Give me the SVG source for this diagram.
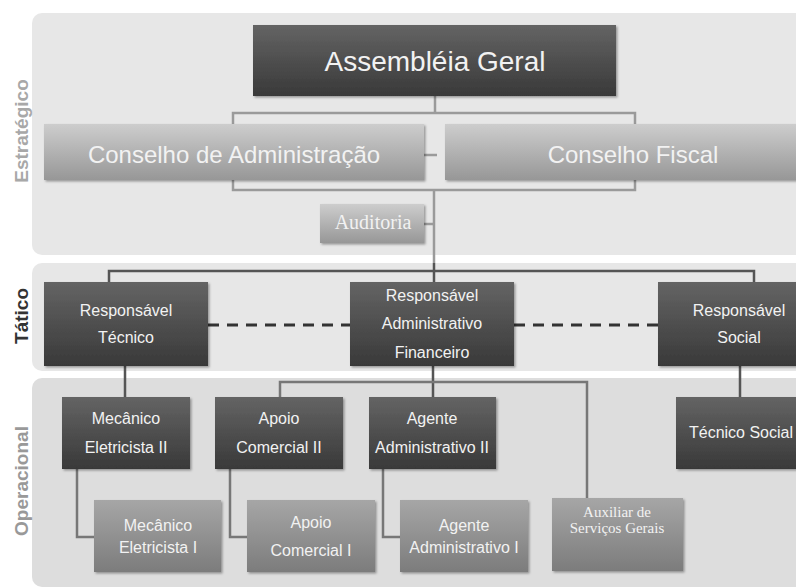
<svg xmlns="http://www.w3.org/2000/svg" width="796" height="588" viewBox="0 0 796 588">
<defs>
<linearGradient id="gDark" x1="0" y1="0" x2="0" y2="1">
<stop offset="0" stop-color="#646464"/><stop offset="1" stop-color="#393939"/>
</linearGradient>
<linearGradient id="gLight" x1="0" y1="0" x2="0" y2="1">
<stop offset="0" stop-color="#cdcdcd"/><stop offset="1" stop-color="#979797"/>
</linearGradient>
<linearGradient id="gMid" x1="0" y1="0" x2="0" y2="1">
<stop offset="0" stop-color="#a6a6a6"/><stop offset="1" stop-color="#7c7c7c"/>
</linearGradient>
<filter id="sh" x="-10%" y="-10%" width="125%" height="130%">
<feDropShadow dx="1.5" dy="1.5" stdDeviation="1.2" flood-color="#000" flood-opacity="0.35"/>
</filter>
</defs>
<style>
.band{fill:#e7e7e7}
.band3{fill:#dddddd}
.dark{fill:url(#gDark);filter:url(#sh)}
.light{fill:url(#gLight);filter:url(#sh)}
.mid{fill:url(#gMid);filter:url(#sh)}
.t{font-family:"Liberation Sans",Arial,sans-serif;fill:#f2f2f2;text-anchor:middle}
.s{font-family:"Liberation Serif","Times New Roman",serif;fill:#f2f2f2;text-anchor:middle}
.lbl{font-family:"Liberation Sans",Arial,sans-serif;font-weight:bold;font-size:19px;text-anchor:middle}
.c1{fill:none;stroke:#9a9a9a;stroke-width:2.5}
.c2{fill:none;stroke:#555;stroke-width:2.5}
.c3{fill:none;stroke:#777;stroke-width:2.5}
.dash{fill:none;stroke:#333;stroke-width:3;stroke-dasharray:11,8}
</style>
<rect width="796" height="588" fill="#ffffff"/>
<g id="bands">
<rect class="band" x="32" y="13" width="790" height="242" rx="10"/>
<rect class="band" x="32" y="263" width="790" height="108" rx="10"/>
<rect class="band3" x="32" y="378" width="790" height="209" rx="10"/>
<text class="lbl" fill="#a8a8a8" transform="translate(28,131) rotate(-90)">Estratégico</text>
<text class="lbl" fill="#333" transform="translate(28,316) rotate(-90)">Tático</text>
<text class="lbl" fill="#999" transform="translate(28,481) rotate(-90)">Operacional</text>
</g>
<g id="connectors">
<path class="c1" d="M435 96V113M233 113H635V190H233Z"/>
<path class="c1" d="M424 155H437"/>
<path class="c1" d="M434 190V263M424 224H434"/>
<path class="c2" d="M434 263V282M109 282V271H754V282"/>
<path class="dash" d="M208 325H350M514 325H658"/>
<path class="c2" d="M125 366V397M433 366V397M740 366V397"/>
<path class="c3" d="M280 397V382H587V498"/>
<path class="c3" d="M77 469V537H94M230 469V537H247M383 469V537H400"/>
</g>
<g id="assembleia"><rect class="dark" x="253" y="25" width="363" height="71"/><text class="t" x="435" y="71" font-size="28">Assembléia Geral</text></g>
<g id="conselho-adm"><rect class="light" x="44" y="124" width="380" height="56"/><text class="t" x="234" y="163" font-size="24">Conselho de Administração</text></g>
<g id="conselho-fiscal"><rect class="light" x="445" y="124" width="362" height="56"/><text class="t" x="633" y="163" font-size="24">Conselho Fiscal</text></g>
<g id="auditoria"><rect class="light" x="320" y="204" width="104" height="39"/><text class="s" x="373" y="229" font-size="20">Auditoria</text></g>
<g id="resp-tecnico"><rect class="dark" x="44" y="282" width="164" height="84"/><text class="t" font-size="16"><tspan x="126" y="316">Responsável</tspan><tspan x="126" y="343">Técnico</tspan></text></g>
<g id="resp-adm-fin"><rect class="dark" x="350" y="282" width="164" height="84"/><text class="t" font-size="16"><tspan x="432" y="301">Responsável</tspan><tspan x="432" y="329">Administrativo</tspan><tspan x="432" y="358">Financeiro</tspan></text></g>
<g id="resp-social"><rect class="dark" x="658" y="282" width="164" height="84"/><text class="t" font-size="16"><tspan x="739" y="316">Responsável</tspan><tspan x="739" y="343">Social</tspan></text></g>
<g id="mec2"><rect class="dark" x="62" y="397" width="128" height="72"/><text class="t" font-size="16"><tspan x="126" y="424">Mecânico</tspan><tspan x="126" y="453">Eletricista II</tspan></text></g>
<g id="apoio2"><rect class="dark" x="215" y="397" width="128" height="72"/><text class="t" font-size="16"><tspan x="279" y="424">Apoio</tspan><tspan x="279" y="453">Comercial II</tspan></text></g>
<g id="agente2"><rect class="dark" x="369" y="397" width="127" height="72"/><text class="t" font-size="16"><tspan x="432" y="424">Agente</tspan><tspan x="432" y="453">Administrativo II</tspan></text></g>
<g id="tecnico-social"><rect class="dark" x="676" y="397" width="130" height="72"/><text class="t" x="741" y="438" font-size="16">Técnico Social</text></g>
<g id="mec1"><rect class="mid" x="94" y="500" width="127" height="72"/><text class="t" font-size="16"><tspan x="158" y="531">Mecânico</tspan><tspan x="158" y="553">Eletricista I</tspan></text></g>
<g id="apoio1"><rect class="mid" x="247" y="500" width="128" height="72"/><text class="t" font-size="16"><tspan x="311" y="528">Apoio</tspan><tspan x="311" y="556">Comercial I</tspan></text></g>
<g id="agente1"><rect class="mid" x="400" y="500" width="128" height="72"/><text class="t" font-size="16"><tspan x="464" y="531">Agente</tspan><tspan x="464" y="553">Administrativo I</tspan></text></g>
<g id="auxiliar"><rect class="mid" x="552" y="498" width="131" height="73"/><text class="s" font-size="15"><tspan x="617" y="517">Auxiliar de</tspan><tspan x="617" y="533">Serviços Gerais</tspan></text></g>
</svg>
